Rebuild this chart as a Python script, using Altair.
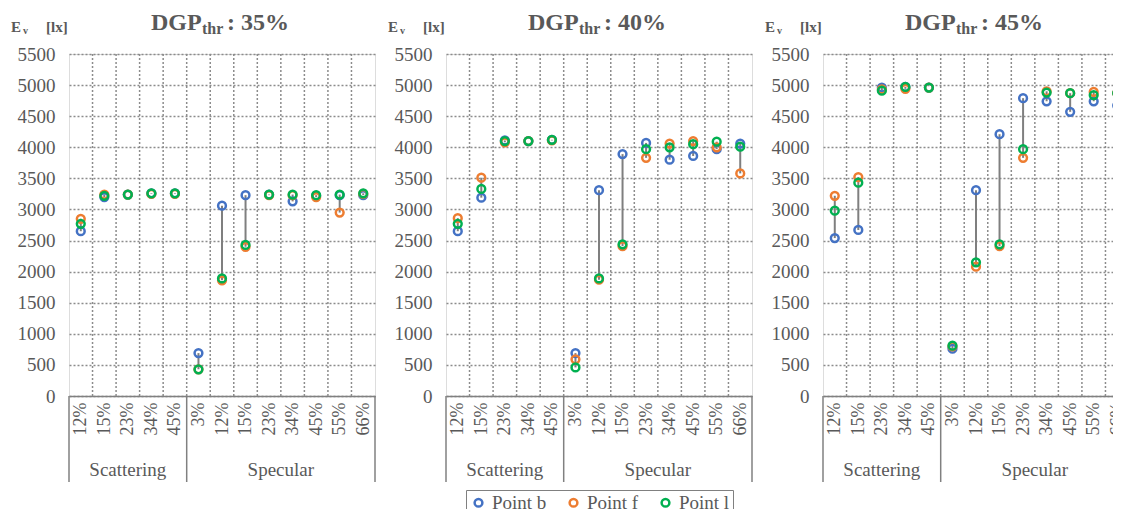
import altair as alt
import pandas as pd

# ---------------- data ----------------
labels_scat = ["12%", "15%", "23%", "34%", "45%"]
labels_spec = ["3%", "12%", "15%", "23%", "34%", "45%", "55%", "66%"]
groups = ["Scattering", "Specular"]
series = ["Point b", "Point f", "Point l"]
thresholds = ["35%", "40%", "45%"]
y_ticks = [0, 500, 1000, 1500, 2000, 2500, 3000, 3500, 4000, 4500, 5000, 5500]

b35 = [2650, 3200, 3240, 3260, 3260, 690, 3060, 3230, 3240, 3130, 3220, 3230, 3230]
f35 = [2850, 3240, 3240, 3250, 3250, 430, 1860, 2400, 3230, 3230, 3200, 2950, 3250]
l35 = [2770, 3220, 3240, 3260, 3260, 430, 1890, 2430, 3240, 3240, 3230, 3240, 3260]

b40 = [2650, 3190, 4110, 4100, 4120, 690, 3310, 3890, 4070, 3800, 3860, 3970, 4060]
f40 = [2860, 3510, 4080, 4100, 4110, 590, 1870, 2410, 3830, 4060, 4100, 4000, 3580]
l40 = [2770, 3330, 4100, 4100, 4120, 460, 1890, 2440, 3970, 4000, 4050, 4090, 4010]

b45 = [2540, 2670, 4960, 4970, 4960, 760, 3310, 4210, 4790, 4740, 4570, 4740, 4670]
f45 = [3220, 3520, 4930, 4940, 4960, 800, 2080, 2410, 3830, 4900, 4870, 4890, 4870]
l45 = [2980, 3430, 4910, 4970, 4960, 810, 2150, 2440, 3970, 4880, 4870, 4840, 4870]

# ---------------- style ----------------
FONT = "Times New Roman"
TXT = "#595959"
GRID = "#8c8c8c"
AXIS = "#808080"
colors = ["#4472C4", "#ED7D31", "#00B050"]
W, H = 306, 342

cat_labels = labels_scat + labels_spec
n = len(cat_labels)
n_scat = len(labels_scat)
label_expr = "[" + ",".join("'%s'" % c for c in cat_labels) + "][floor(datum.value)]"


def panel(thr, b, f, l, show_legend):
    rows = []
    for s, vals in zip(series, [b, f, l]):
        for i, v in enumerate(vals):
            rows.append({"pos": i + 0.5, "series": s, "value": v})
    df = pd.DataFrame(rows)
    hl = pd.DataFrame({
        "pos": [i + 0.5 for i in range(n)],
        "lo": [min(t) for t in zip(b, f, l)],
        "hi": [max(t) for t in zip(b, f, l)],
    })
    xscale = alt.Scale(domain=[0, n], nice=False, zero=False)
    yscale = alt.Scale(domain=[0, 5500], nice=False)
    xaxis = alt.Axis(values=[i + 0.5 for i in range(n)], labelExpr=label_expr,
                     labelAngle=270, ticks=False, grid=False, domain=True,
                     domainColor=AXIS, domainWidth=1.5, labelFont=FONT,
                     labelFontSize=18, labelColor=TXT, labelPadding=6, title=None)
    yaxis = alt.Axis(values=y_ticks, format="d", grid=True, gridColor=GRID, gridDash=[2, 2],
                     gridWidth=1.5, ticks=False, domain=False, labelFont=FONT,
                     labelFontSize=19, labelColor=TXT, labelPadding=14, title=None)

    vgrid = alt.Chart(pd.DataFrame({"b": list(range(1, n))})).mark_rule(
        color=GRID, strokeDash=[2, 2], strokeWidth=1.5
    ).encode(x=alt.X("b:Q", scale=xscale, axis=xaxis))

    seps = alt.Chart(pd.DataFrame({"s": [0, n_scat, n]})).mark_rule(
        color=AXIS, strokeWidth=1.5
    ).encode(x=alt.X("s:Q", scale=xscale, axis=xaxis), y=alt.value(H), y2=alt.value(H + 86))

    gl = alt.Chart(pd.DataFrame({"g": groups, "c": [n_scat / 2, n_scat + (n - n_scat) / 2]})).mark_text(
        font=FONT, fontSize=19, color=TXT, align="center", baseline="alphabetic"
    ).encode(x=alt.X("c:Q", scale=xscale, axis=xaxis), y=alt.value(H + 80), text="g:N")

    rules = alt.Chart(hl).mark_rule(color="#7f7f7f", strokeWidth=2).encode(
        x=alt.X("pos:Q", scale=xscale, axis=xaxis),
        y=alt.Y("lo:Q", scale=yscale, axis=yaxis),
        y2="hi:Q",
    )

    if show_legend:
        leg = alt.Legend(orient="none", legendX=397, legendY=436, direction="horizontal",
                         title=None, labelFont=FONT, labelFontSize=19, labelColor=TXT,
                         symbolSize=60, symbolStrokeWidth=2.5, symbolType="circle",
                         strokeColor=AXIS, padding=3, columnPadding=17, labelOffset=4,
                         fillColor="white")
        cenc = alt.Color("series:N", scale=alt.Scale(domain=series, range=colors), legend=leg)
    else:
        cenc = alt.Color("series:N", scale=alt.Scale(domain=series, range=colors), legend=None)

    pts = alt.Chart(df).mark_point(filled=False, size=60, strokeWidth=2.5, opacity=1).encode(
        x=alt.X("pos:Q", scale=xscale, axis=xaxis),
        y=alt.Y("value:Q", scale=yscale, axis=yaxis),
        color=cenc,
    )

    one = alt.Data(values=[{}])
    t_dgp = alt.Chart(one).mark_text(text="DGP", font=FONT, fontSize=24, fontWeight="bold",
                                     color=TXT, align="left", baseline="alphabetic").encode(
        x=alt.value(82), y=alt.value(-24))
    t_sub = alt.Chart(one).mark_text(text="thr", font=FONT, fontSize=16, fontWeight="bold",
                                     color=TXT, align="left", baseline="alphabetic").encode(
        x=alt.value(133), y=alt.value(-20))
    t_val = alt.Chart(one).mark_text(text=": " + thr, font=FONT, fontSize=24, fontWeight="bold",
                                     color=TXT, align="left", baseline="alphabetic").encode(
        x=alt.value(158), y=alt.value(-24))
    e_main = alt.Chart(one).mark_text(text="E", font=FONT, fontSize=15, fontWeight="bold",
                                      color=TXT, align="left", baseline="alphabetic").encode(
        x=alt.value(-58), y=alt.value(-22))
    e_sub = alt.Chart(one).mark_text(text="v", font=FONT, fontSize=10, fontWeight="bold",
                                     color=TXT, align="left", baseline="alphabetic").encode(
        x=alt.value(-46), y=alt.value(-20))
    e_unit = alt.Chart(one).mark_text(text="[lx]", font=FONT, fontSize=15, fontWeight="bold",
                                      color=TXT, align="left", baseline="alphabetic").encode(
        x=alt.value(-23), y=alt.value(-22))

    return alt.layer(vgrid, rules, pts, seps, gl, t_dgp, t_sub, t_val, e_main, e_sub, e_unit).properties(
        width=W, height=H)


p1 = panel(thresholds[0], b35, f35, l35, True)
p2 = panel(thresholds[1], b40, f40, l40, False)
p3 = panel(thresholds[2], b45, f45, l45, False)

chart = alt.hconcat(p1, p2, p3, spacing=10).properties(
    padding={"left": 2, "top": 2, "right": -18, "bottom": -8}
).configure_view(
    fill="#f2f2f2", stroke=GRID, strokeDash=[2, 2], strokeWidth=1.5
).configure(background="white")

chart.save("out.html", embed_options={"renderer": "svg", "actions": False})
